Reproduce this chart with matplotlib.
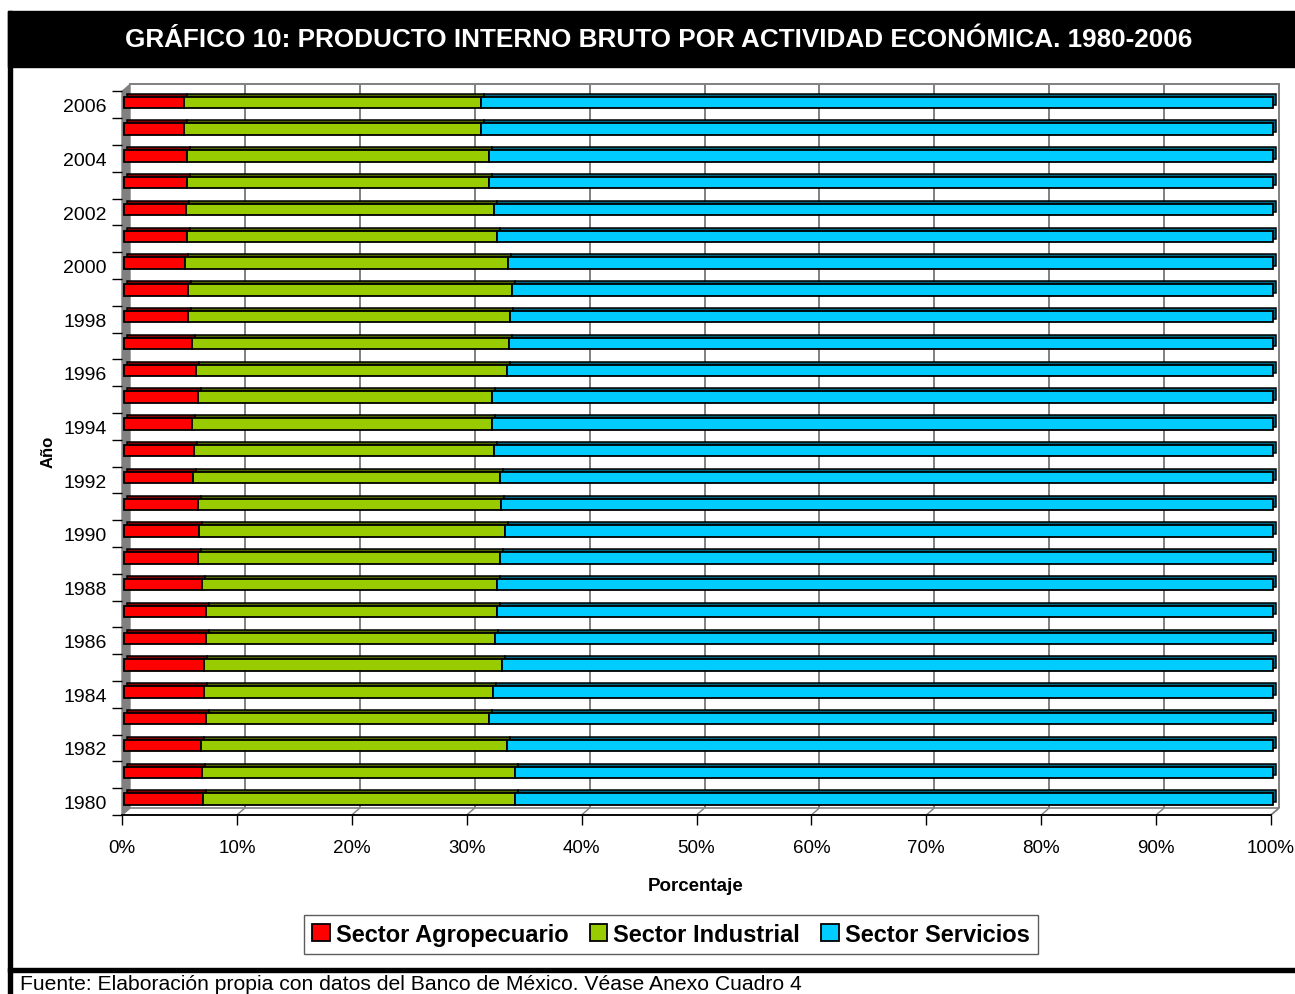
import matplotlib
matplotlib.use("Agg")
import matplotlib.pyplot as plt
from matplotlib import transforms
from matplotlib.patches import Rectangle, Polygon, Patch

# PIB por actividad economica, participacion porcentual 1980-2006
years = list(range(1980, 2007))
agro = [6.9, 6.8, 6.7, 7.1, 7.0, 7.0, 7.1, 7.1, 6.8, 6.4, 6.5, 6.4, 6.0, 6.1,
        5.9, 6.4, 6.3, 5.9, 5.6, 5.6, 5.3, 5.5, 5.4, 5.5, 5.5, 5.2, 5.2]
industrial = [27.1, 27.2, 26.6, 24.7, 25.1, 25.9, 25.2, 25.4, 25.7, 26.3, 26.7,
              26.4, 26.7, 26.1, 26.1, 25.6, 27.0, 27.6, 28.0, 28.2, 28.1, 27.0,
              26.8, 26.3, 26.3, 25.9, 25.9]
servicios = [66.0, 66.0, 66.7, 68.2, 67.9, 67.1, 67.7, 67.5, 67.5, 67.3, 66.8,
             67.2, 67.3, 67.8, 68.0, 68.0, 66.7, 66.5, 66.4, 66.2, 66.6, 67.5,
             67.8, 68.2, 68.2, 68.9, 68.9]
series_names = ["Sector Agropecuario", "Sector Industrial", "Sector Servicios"]
x_ticks = list(range(0, 101, 10))

face_colors = ["#ff0000", "#99cc00", "#00ccff"]
dark_colors = ["#800000", "#4d6600", "#006680"]

plt.rcParams["font.family"] = ["Liberation Sans", "DejaVu Sans"]

W, H = 1295, 995
fig = plt.figure(figsize=(W / 100, H / 100), dpi=100)


def fx(px):
    return px / W


def fy(py):
    return 1 - py / H


# axes box (front plane of the 3D chart)
ax_l, ax_r, ax_t, ax_b = 122, 1271, 92.4, 816
ax = fig.add_axes([fx(ax_l), fy(ax_b), (ax_r - ax_l) / W, (ax_b - ax_t) / H])
aw, ah = ax_r - ax_l, ax_b - ax_t
depth_x, depth_y = 8, 7  # wall depth in pixels

ax.set_xlim(0, 100)
ax.set_ylim(-0.5, len(years) - 0.5)

# walls and floor
gray = "#808080"
left_wall = Polygon([(0, 0), (depth_x / aw, depth_y / ah),
                     (depth_x / aw, 1 + depth_y / ah), (0, 1)],
                    closed=True, transform=ax.transAxes, facecolor=gray,
                    edgecolor=gray, lw=1, clip_on=False, zorder=0.3)
ax.add_patch(left_wall)
floor = Polygon([(0, 0), (1, 0), (1 + depth_x / aw, depth_y / ah),
                 (depth_x / aw, depth_y / ah)], closed=True,
                transform=ax.transAxes, facecolor="white", edgecolor=gray,
                lw=1.2, clip_on=False, zorder=0.3)
ax.add_patch(floor)

back = transforms.offset_copy(ax.transData, fig=fig, x=depth_x, y=depth_y,
                              units="dots")
back_ax = transforms.offset_copy(ax.transAxes, fig=fig, x=depth_x, y=depth_y,
                                 units="dots")
blend_back = transforms.blended_transform_factory(back, back_ax)
ax.vlines(x_ticks[1:], 0, 1, transform=blend_back, colors=gray, lw=1.4,
          zorder=0.5, clip_on=False)
ax.plot([0, 1], [1, 1], transform=back_ax, color=gray, lw=1.4, zorder=0.5,
        clip_on=False)
# floor diagonals under each gridline
for xv in x_ticks[1:]:
    ax.annotate("", xy=(xv, 0), xycoords=("data", "axes fraction"),
                xytext=(depth_x, depth_y), textcoords="offset pixels",
                arrowprops=dict(arrowstyle="-", color=gray, lw=1,
                                shrinkA=0, shrinkB=0))

# 3D-looking stacked bars: dark depth block behind, front face on top
bar_h = 0.42
front = transforms.offset_copy(ax.transData, fig=fig, x=2, y=2.5, units="dots")
depth = transforms.offset_copy(ax.transData, fig=fig, x=5, y=5.5, units="dots")
values = [agro, industrial, servicios]
lefts = [[0] * len(years), agro, [a + b for a, b in zip(agro, industrial)]]
ypos = list(range(len(years)))
for vals, left, dc in zip(values, lefts, dark_colors):
    bars = ax.barh(ypos, vals, left=left, height=bar_h, color=dc,
                   edgecolor="black", lw=1.1, transform=depth, zorder=2)
    for b in bars:
        b.set_clip_on(False)
for vals, left, c in zip(values, lefts, face_colors):
    bars = ax.barh(ypos, vals, left=left, height=bar_h, color=c,
                   edgecolor="black", lw=1.3, transform=front, zorder=3)
    for b in bars:
        b.set_clip_on(False)

# axes styling
for side in ["left", "right", "top"]:
    ax.spines[side].set_visible(False)
ax.spines["bottom"].set_color("black")
ax.spines["bottom"].set_linewidth(1.3)
ax.spines["bottom"].set_zorder(4)
ax.patch.set_visible(False)

ax.set_xticks(x_ticks)
ax.set_xticklabels([f"{v}%" for v in x_ticks], fontsize=13.5)
ax.tick_params(axis="x", length=7, width=1, pad=10, color="black")

ax.set_yticks([i - 0.5 for i in range(len(years) + 1)])
ax.set_yticklabels([])
ax.set_yticks([i for i, y in enumerate(years) if y % 2 == 0], minor=True)
ax.set_yticklabels([str(y) for y in years if y % 2 == 0], minor=True,
                   fontsize=14)
ax.tick_params(axis="y", which="major", length=7, width=1, color="black")
ax.tick_params(axis="y", which="minor", length=0, pad=11)

# title band, frame and footer
fig.add_artist(Rectangle((fx(8), fy(68)), 1, (68 - 12) / H,
                         transform=fig.transFigure, color="black", zorder=0))
fig.add_artist(Rectangle((fx(8), 0), 4 / W, fy(12),
                         transform=fig.transFigure, color="black", zorder=0))
fig.add_artist(Rectangle((fx(8), fy(973)), 1, 4 / H,
                         transform=fig.transFigure, color="black", zorder=0))

fig.text(fx(658.5), fy(40),
         "GRÁFICO 10: PRODUCTO INTERNO BRUTO POR ACTIVIDAD ECONÓMICA. 1980-2006",
         color="white", fontsize=18.8, fontweight="bold",
         ha="center", va="center")
fig.text(fx(48), fy(452), "Año", rotation=90, fontsize=12, fontweight="bold",
         ha="center", va="center")
fig.text(fx(696), fy(887), "Porcentaje", fontsize=13.5, fontweight="bold",
         ha="center", va="center")
fig.text(fx(20), fy(975),
         "Fuente: Elaboración propia con datos del Banco de México. Véase Anexo Cuadro 4",
         fontsize=15.2, ha="left", va="top")

handles = [Patch(facecolor=c, edgecolor="black", lw=1.3) for c in face_colors]
leg = fig.legend(handles, series_names, loc="center",
                 bbox_to_anchor=(fx(671), fy(935.5)), ncol=3,
                 prop={"weight": "bold", "size": 17},
                 frameon=True, fancybox=False, edgecolor="#333333",
                 handlelength=0.75, handleheight=0.75, handletextpad=0.25,
                 columnspacing=0.9, borderpad=0.35)
leg.get_frame().set_linewidth(1)

fig.savefig("out.png", dpi=100)
